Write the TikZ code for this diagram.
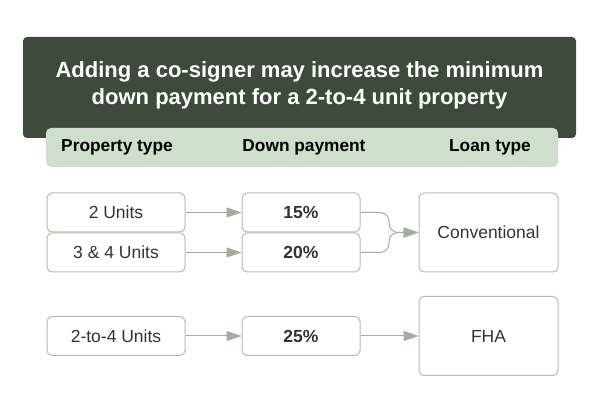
\documentclass[tikz,border=0pt]{standalone}
\usepackage{fontspec}
\setmainfont{Liberation Sans}
\usetikzlibrary{shapes,arrows.meta}
\definecolor{darkgreen}{HTML}{3E4A3C}
\definecolor{palegreen}{HTML}{CEE0CC}
\definecolor{boxline}{HTML}{B3BDAF}
\definecolor{arrowgrey}{HTML}{A2AD9E}
\definecolor{boxtext}{HTML}{333333}
\tikzstyle{block} = [rectangle, draw=boxline, line width=1pt, rounded corners=5pt,
    text=boxtext, font=\fontsize{17.5}{20}\selectfont, minimum height=39pt]
\tikzstyle{unit} = [block, minimum width=138pt]
\tikzstyle{share} = [block, minimum width=118pt, font=\fontsize{17.5}{20}\selectfont\bfseries]
\tikzstyle{loan} = [block, minimum width=139pt, minimum height=79pt]
\tikzstyle{heading} = [font=\fontsize{17.3}{20}\selectfont\bfseries, text=black]
\tikzstyle{line} = [draw=arrowgrey, line width=1pt, -{Triangle[length=15pt,width=10pt]}]

\begin{document}
\begin{tikzpicture}[node distance=185pt]
	\useasboundingbox (0,0) rectangle (600pt,407pt);

		% title and column headings
		\node [rectangle, fill=darkgreen, rounded corners=4pt, minimum width=553pt, minimum height=101pt] (title) at (299.5pt,319.5pt) {};
		\node [text=white, align=center, inner sep=0pt, font=\fontsize{22}{27}\selectfont\bfseries] (titletext) at (299.5pt,321.5pt) {Adding a co-signer may increase the minimum\\down payment for a 2-to-4 unit property};
		\node [rectangle, fill=palegreen, rounded corners=5pt, minimum width=512pt, minimum height=39pt] (band) at (302pt,259.5pt) {};
		\node [heading] (ptype) at (117pt,259.5pt) {Property type};
		\node [heading] (dpay) at (304pt,259.5pt) {Down payment};
		\node [heading] (ltype) at (490pt,259.5pt) {Loan type};

		% conventional loans
		\node [unit] (two) at (116pt,194.5pt) {2 Units};
		\node [unit, below of=two, node distance=40pt] (threefour) {3 \& 4 Units};
		\node [share, right of=two] (p15) {15\%};
		\node [share, right of=threefour] (p20) {20\%};
		\node [loan] (conv) at (488.5pt,174.5pt) {Conventional};
		\coordinate (merge) at (389pt,174.5pt);

		% FHA loans
		\node [unit] (twofour) at (116pt,71pt) {2-to-4 Units};
		\node [share, right of=twofour] (p25) {25\%};
		\node [loan, right of=p25, node distance=187.5pt] (fha) {FHA};

		\path [line] (two) -- (p15);
		\path [line] (threefour) -- (p20);
		\path [line, rounded corners=9pt] (p15.east) -| (merge) -- (conv.west);
		\path [line, rounded corners=9pt] (p20.east) -| (merge) -- (conv.west);
		\path [line] (twofour) -- (p25);
		\path [line] (p25) -- (fha);
	\end{tikzpicture}
\end{document}
